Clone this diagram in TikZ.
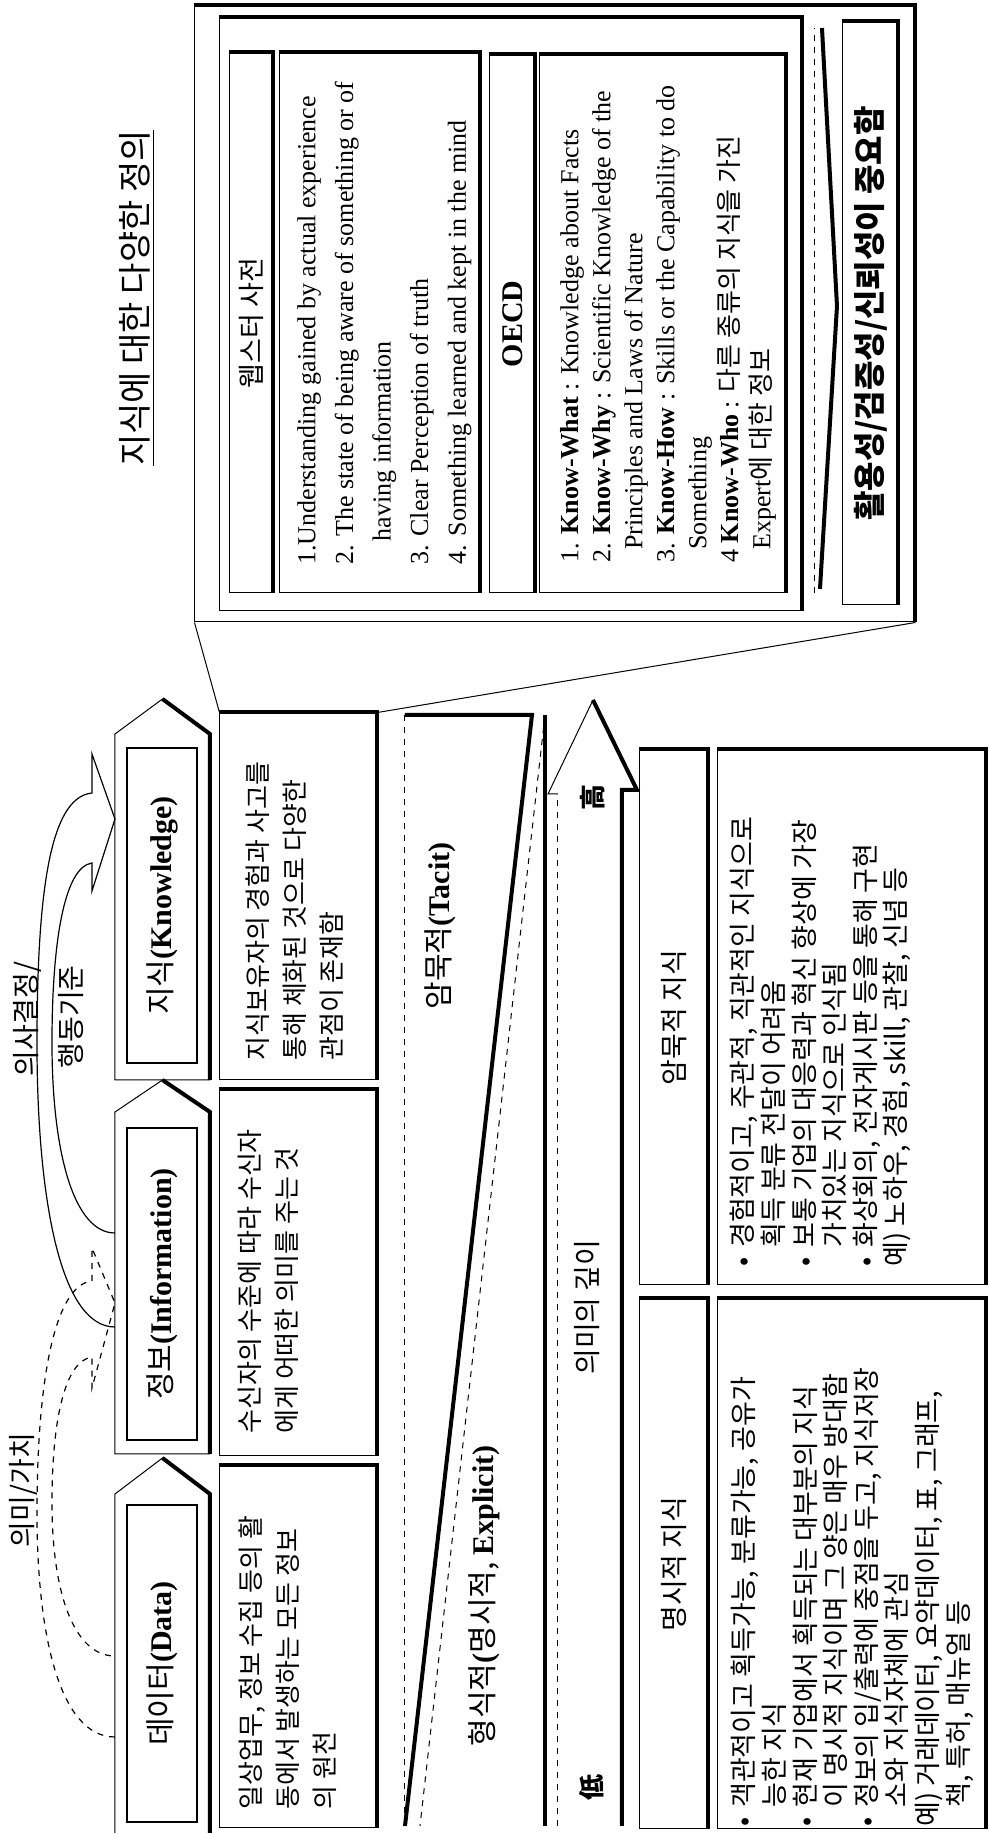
\documentclass[tikz,border=0pt]{standalone}
\usepackage{fontspec}
\setmainfont{Liberation Serif}
\newfontfamily\kr{Noto Sans CJK KR}
\usetikzlibrary{positioning}

\tikzset{
  bx/.style={draw, line width=0.5pt, inner sep=0pt},
  thk/.style={line width=2pt},
  thn/.style={line width=0.5pt},
  crv/.style={line width=0.6pt},
  ktxt/.style={font=\kr\fontsize{13}{18.5}\selectfont, align=left, inner sep=0pt, anchor=north west},
  etxt/.style={font=\fontsize{13}{18.8}\selectfont, align=left, inner sep=0pt, anchor=north west},
  otxt/.style={font=\fontsize{13}{16}\selectfont, align=left, inner sep=0pt, anchor=north west},
  btxt/.style={font=\kr\fontsize{13.5}{15.3}\selectfont, align=left, inner sep=0pt, anchor=north west},
  hd/.style={font=\kr\fontsize{14}{16}\selectfont},
  lbl/.style={font=\kr\fontsize{14}{16}\selectfont, inner sep=0pt},
  big/.style={font=\fontsize{15}{17}\selectfont, inner sep=0pt},
}
\newcommand{\bul}{\makebox[0.7em][l]{•}}
\newcommand{\bsk}{\hspace*{0.7em}}

\begin{document}
\begin{tikzpicture}[x=0.5pt, y=0.5pt]
\fill[white] (-989,0) rectangle (0,1833);
\useasboundingbox (-989,0) rectangle (0,1833);
\begin{scope}[rotate=90, transform shape]

% data -> information -> knowledge
\draw[thn] (-10,779) -- (339,779) -- (375,826.5) -- (339,874) -- (-10,874);
\draw[thk] (375,826.5) -- (339,779) -- (-10,779);
\draw[thn] (379,779) -- (721,779) -- (753,826.5) -- (721,874) -- (379,874) -- cycle;
\draw[thk] (753,826.5) -- (721,779) -- (379,779);
\draw[thn] (753,779) -- (1099,779) -- (1134,826.5) -- (1099,874) -- (753,874) -- cycle;
\draw[thk] (1134,826.5) -- (1099,779) -- (753,779);

\node[bx, line width=1pt, minimum width=158.5pt, minimum height=35pt, big] (din) at (169.5,827) {{\kr 데이터}\textbf{(Data)}};
\node[bx, line width=1pt, minimum width=156pt, minimum height=35pt, big] (iin) at (549,827) {{\kr 정보}\textbf{(Information)}};
\node[bx, line width=1pt, minimum width=157.5pt, minimum height=35pt, big] (kin) at (927.5,827) {{\kr 지식}\textbf{(Knowledge)}};

% descriptions
\node[bx, minimum width=181pt, minimum height=78.5pt] (ddesc) at (186,690.5) {};
\draw[thk] (ddesc.north east) -- (ddesc.south east) -- (ddesc.south west);
\node[bx, minimum width=183pt, minimum height=78.5pt] (idesc) at (560,690.5) {};
\draw[thk] (idesc.north east) -- (idesc.south east) -- (idesc.south west);
\node[bx, minimum width=183.5pt, minimum height=78.5pt] (kdesc) at (936.5,690.5) {};
\draw[thk] (kdesc.north east) -- (kdesc.south east) -- (kdesc.south west);

\node[ktxt] (dtxt) at (23,751) {일상업무, 정보 수집 등의 활\\동에서 발생하는 모든 정보\\의 원천};
\node[ktxt] (itxt) at (399,751) {수신자의 수준에 따라 수신자\\에게 어떠한 의미를 주는 것};
\node[ktxt] (ktxt) at (772,744) {지식보유자의 경험과 사고를\\통해 체화된 것으로 다양한\\관점이 존재함};

% curved arrows
\draw[crv, dashed] (96,874) .. controls (96,930) and (200,952) .. (320,952) .. controls (450,952) and (548,935) .. (552,897) -- (585,897) -- (530,874) -- (445,897) -- (476,897) .. controls (472,925) and (410,937) .. (330,937) .. controls (240,937) and (177,915) .. (177,874);
\draw[crv] (506,874) .. controls (506,930) and (640,952) .. (790,952) .. controls (960,952) and (1036,935) .. (1040,897) -- (1079,897) -- (1014,874) -- (942,897) -- (970,897) .. controls (966,925) and (890,937) .. (790,937) .. controls (680,937) and (600,915) .. (600,874);
\node[lbl] (meaning) at (343,966) {의미/가치};
\node[lbl] (decide) at (814,962) {의사결정/};
\node[lbl] (action) at (816,918) {행동기준};

% tacit / explicit wedge
\draw[thn, dashed] (1118,584) -- (7,584);
\draw[thk] (1118,584) -- (1118,457) -- (7,584);
\draw[thk] (1118,444) -- (7,444);
\draw[thn, dashed] (1118,444) -- (7,569);
\node[big] (tacit) at (907,549) {{\kr 암묵적}\textbf{(Tacit)}};
\node[big] (explicit) at (237,505) {{\kr 형식적}\textbf{(}{\kr 명시적, }\textbf{Explicit)}};

% depth of meaning
\draw[thn, dashed] (7,431) -- (1039,431);
\draw[thn] (1039,431) -- (1039,441) -- (1133,396);
\draw[thk] (1133,396) -- (1043,352) -- (1043,367) -- (7,367);
\node[lbl, font=\kr\bfseries\fontsize{13}{15}\selectfont] (high) at (1035,396) {高};
\node[lbl, font=\kr\bfseries\fontsize{13}{15}\selectfont] (low) at (45,397) {低};
\node[lbl] (depth) at (526,402) {의미의 깊이};

% explicit / tacit knowledge
\node[bx, minimum width=265pt, minimum height=34pt, hd] (exph) at (269,315) {명시적 지식};
\draw[thk] (exph.north east) -- (exph.south east) -- (exph.south west);
\node[bx, minimum width=265pt, minimum height=134pt] (expc) at (269,137) {};
\draw[thk] (expc.north east) -- (expc.south east) -- (expc.south west);
\node[bx, minimum width=267.5pt, minimum height=34pt, hd] (tach) at (815.5,315) {암묵적 지식};
\draw[thk] (tach.north east) -- (tach.south east) -- (tach.south west);
\node[bx, minimum width=267.5pt, minimum height=134pt] (tacc) at (815.5,137) {};
\draw[thk] (tacc.north east) -- (tacc.south east) -- (tacc.south west);

\node[btxt] (exptxt) at (6,258) {\bul 객관적이고 획득가능, 분류가능, 공유가\\\bsk 능한 지식\\\bul 현재 기업에서 획득되는 대부분의 지식\\\bsk 이 명시적 지식이며 그 양은 매우 방대함\\\bul 정보의 입/출력에 중점을 두고, 지식저장\\\bsk 소와 지식자체에 관심\\예) 거래데이터, 요약데이터, 표, 그래프,\\\bsk 책, 특허, 매뉴얼 등};
\node[btxt] (tactxt) at (566,259) {\bul 경험적이고, 주관적, 직관적인 지식으로\\\bsk 획득 분류 전달이 어려움\\\bul 보통 기업의 대응력과 혁신 향상에 가장\\\bsk 가치있는 지식으로 인식됨\\\bul 화상회의, 전자게시판 등을 통해 구현\\예) 노하우, 경험, skill, 관찰, 신념 등};

% definitions of knowledge
\node[font=\kr\fontsize{17}{19}\selectfont, inner sep=0pt] (title) at (1535,852) {\underline{지식에 대한 다양한 정의}};
\node[bx, minimum width=308pt, minimum height=360pt] (outer) at (1519,434) {};
\draw[thk] (outer.north east) -- (outer.south east) -- (outer.south west);
\node[bx, minimum width=296.5pt, minimum height=291pt] (inner) at (1518.5,478) {};
\draw[thk] (inner.north east) -- (inner.south east) -- (inner.south west);

\node[bx, minimum width=270pt, minimum height=21.5pt, font=\kr\fontsize{13.5}{15}\selectfont] (webh) at (1510,737.5) {웹스터 사전};
\draw[thk] (webh.north east) -- (webh.south east) -- (webh.south west);
\node[bx, minimum width=270pt, minimum height=100pt] (webc) at (1510,609) {};
\draw[thk] (webc.north east) -- (webc.south east) -- (webc.south west);
\node[etxt] (webtxt) at (1268,692) {1.Understanding gained by actual experience\\2. The state of being aware of something or of\\\hspace*{0.9em}having information\\3. Clear Perception of truth\\4. Something learned and kept in the mind};

\node[bx, minimum width=269pt, minimum height=22.5pt, font=\bfseries\fontsize{15}{17}\selectfont] (oecdh) at (1509,476.5) {OECD};
\draw[thk] (oecdh.north east) -- (oecdh.south east) -- (oecdh.south west);
\node[bx, minimum width=269pt, minimum height=123pt] (oecdc) at (1509,326) {};
\draw[thk] (oecdc.north east) -- (oecdc.south east) -- (oecdc.south west);
\node[otxt] (oecdtxt) at (1270,429) {1. \textbf{Know-What} : Knowledge about Facts\\2. \textbf{Know-Why} : Scientific Knowledge of the\\\hspace*{0.5em}Principles and Laws of Nature\\3. \textbf{Know-How} : Skills or the Capability to do\\\hspace*{0.5em}Something\\4 \textbf{Know-Who} : {\kr 다른 종류의 지식을 가진}\\\hspace*{0.5em}Expert{\kr 에 대한 정보}};

\draw[thn, dashed] (1240,174) -- (1805,174);
\draw[thk] (1805,167) -- (1527,152) -- (1244,169);
\node[bx, minimum width=291.5pt, minimum height=27.5pt, font=\kr\bfseries\fontsize{16}{18}\selectfont] (strip) at (1519.5,118.5) {활용성/검증성/신뢰성이 중요함};
\draw[thk] (strip.north east) -- (strip.south east) -- (strip.south west);

% zoom lines
\draw[thn] (kdesc.north east) -- (outer.north west);
\draw[thn] (kdesc.south east) -- (outer.south west);

\end{scope}
\end{tikzpicture}
\end{document}
